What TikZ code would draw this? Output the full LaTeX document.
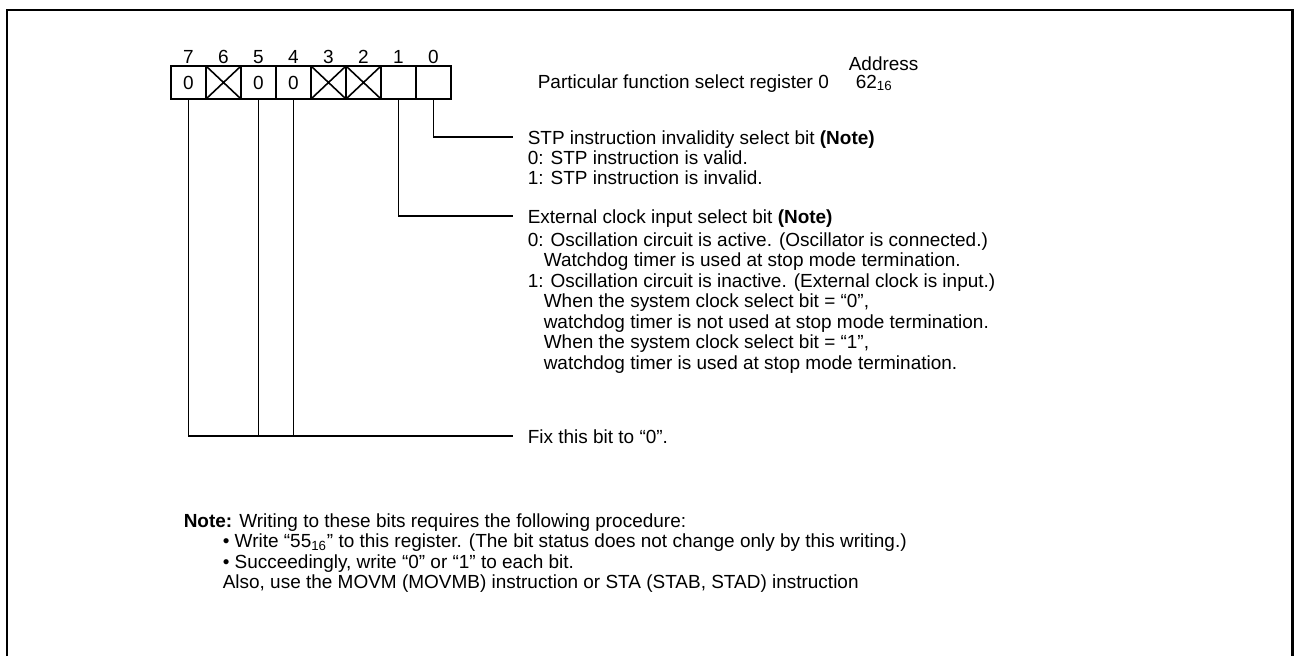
\documentclass[tikz,border=0pt]{standalone}
\usepackage{fontspec}
\setmainfont{Liberation Sans}
\begin{document}
\begin{tikzpicture}[x=0.02cm,y=-0.02cm,line width=0.9pt,
  font=\fontsize{10.8}{13}\selectfont,
  cell/.style={draw,minimum width=0.7cm,minimum height=0.66cm,inner sep=0pt,outer sep=0pt},
  desc/.style={anchor=base west,inner sep=0pt}]

\useasboundingbox (0,0) rectangle (1295,656);

% Frame
\draw[line width=1.7pt] (7,656) -- (7,10) -- (1292,10) -- (1292,656);

% Register bits
\foreach \b/\v in {7/0,6/,5/0,4/0,3/,2/,1/,0/}
{
  \node[cell] (b\b) at ({188.5+(7-\b)*35},82.5) {\v};
  \node (n\b) at ({188.5+(7-\b)*35},57) {\b};
}
\foreach \b in {6,3,2}
  \draw (b\b.north west) -- (b\b.south east) (b\b.north east) -- (b\b.south west);

% Register name and address
\node[desc] (addr) at (848,70) {Address};
\node[desc] (reg) at (537,88) {Particular function select register 0};
\node[desc] (adrv) at (855,88) {62\textsubscript{16}};

% Bit 0
\coordinate (e0) at (513,137);
\draw (b0.south) |- (e0);
\node[desc] (h0) at (527,144) {STP instruction invalidity select bit \textbf{(Note)}};
\foreach \t [count=\i] in {{0: STP instruction is valid.},{1: STP instruction is invalid.}}
  \node[desc] (d0-\i) at (527,{144+\i*20}) {\t};

% Bit 1
\coordinate (e1) at (513,216);
\draw (b1.south) |- (e1);
\node[desc] (h1) at (527,223) {External clock input select bit \textbf{(Note)}};
\foreach \dx/\t [count=\i] in {
  0/{0: Oscillation circuit is active. (Oscillator is connected.)},
  16/{Watchdog timer is used at stop mode termination.},
  0/{1: Oscillation circuit is inactive. (External clock is input.)},
  16/{When the system clock select bit = “0”,},
  16/{watchdog timer is not used at stop mode termination.},
  16/{When the system clock select bit = “1”,},
  16/{watchdog timer is used at stop mode termination.}}
  \node[desc] (d1-\i) at ({527+\dx},{225.5+\i*20.5}) {\t};

% Bits 7, 5, 4
\coordinate (e7) at (513,436);
\draw (b7.south) |- (e7);
\draw (b5.south) -- (b5.south |- e7);
\draw (b4.south) -- (b4.south |- e7);
\node[desc] (h7) at (527,443) {Fix this bit to “0”.};

% Note
\node[desc] (note) at (183,527) {\textbf{Note:} Writing to these bits requires the following procedure:};
\foreach \t [count=\i] in {
  {• Write “55\textsubscript{16}” to this register. (The bit status does not change only by this writing.)},
  {• Succeedingly, write “0” or “1” to each bit.},
  {Also, use the MOVM (MOVMB) instruction or STA (STAB, STAD) instruction}}
  \node[desc] (s-\i) at (222,{527+\i*20.5}) {\t};

\end{tikzpicture}
\end{document}
